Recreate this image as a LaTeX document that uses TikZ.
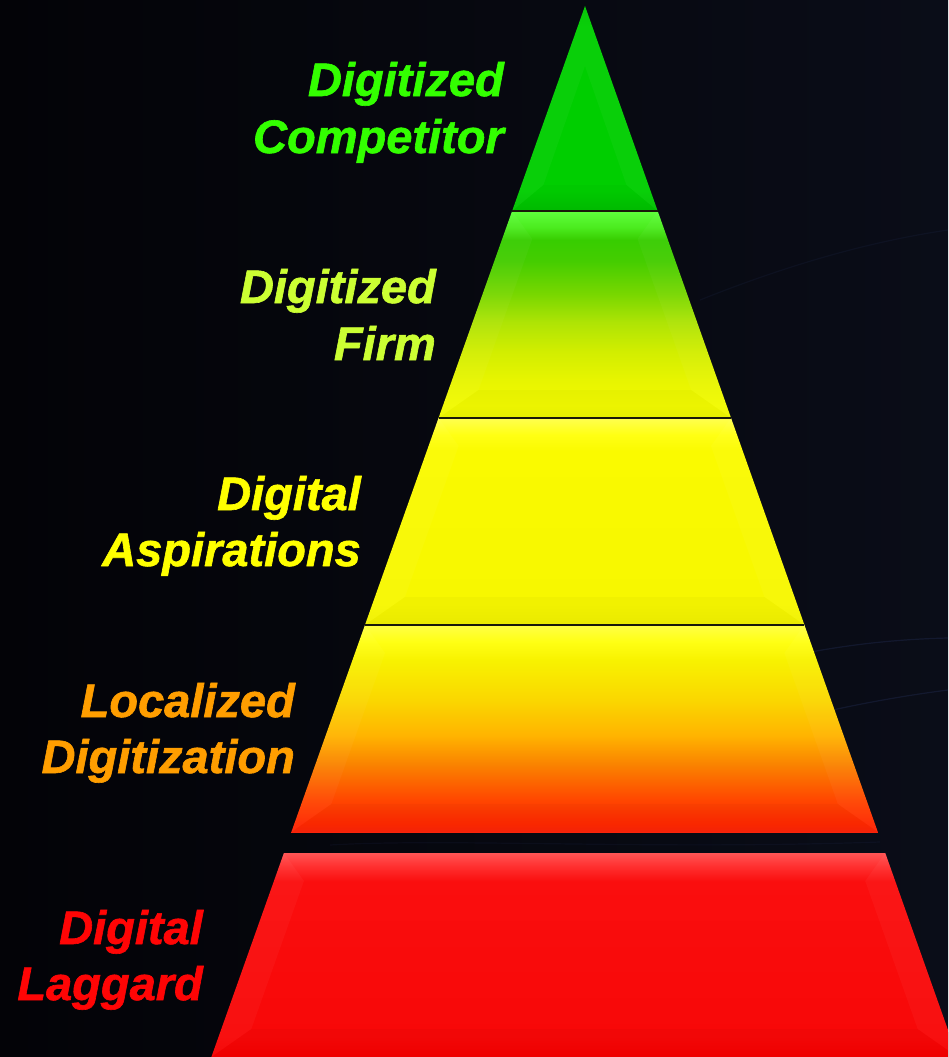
\documentclass[tikz,border=0pt]{standalone}
\usepackage{fontspec}
\newfontfamily\lblfont{Liberation Sans}[BoldItalicFeatures={FakeBold=1.3}]
\definecolor{bgl}{RGB}{3,3,7}
\definecolor{bgr}{RGB}{10,13,24}
\definecolor{streakc}{RGB}{70,90,170}
% layer 1
\definecolor{g1a}{RGB}{0,196,0}
\definecolor{g1b}{RGB}{0,206,0}
\definecolor{g1c}{RGB}{0,190,0}
% layer 2
\definecolor{g2a}{RGB}{95,255,60}
\definecolor{g2b}{RGB}{75,235,30}
\definecolor{g2c}{RGB}{55,205,0}
\definecolor{g2d}{RGB}{68,205,0}
\definecolor{g2e}{RGB}{120,215,0}
\definecolor{g2f}{RGB}{175,228,5}
\definecolor{g2g}{RGB}{210,238,0}
\definecolor{g2h}{RGB}{232,245,0}
\definecolor{g2i}{RGB}{242,250,0}
\definecolor{g2j}{RGB}{236,245,0}
% layer 3
\definecolor{y3a}{RGB}{255,255,80}
\definecolor{y3b}{RGB}{255,255,20}
\definecolor{y3c}{RGB}{250,250,0}
\definecolor{y3d}{RGB}{247,247,0}
\definecolor{y3e}{RGB}{240,240,0}
% layer 4
\definecolor{o4a}{RGB}{255,255,70}
\definecolor{o4b}{RGB}{255,255,20}
\definecolor{o4c}{RGB}{248,242,0}
\definecolor{o4d}{RGB}{250,215,0}
\definecolor{o4e}{RGB}{255,180,0}
\definecolor{o4f}{RGB}{250,130,0}
\definecolor{o4g}{RGB}{255,70,0}
\definecolor{o4h}{RGB}{255,40,0}
\definecolor{o4i}{RGB}{250,35,10}
% layer 5
\definecolor{r5a}{RGB}{255,85,85}
\definecolor{r5b}{RGB}{255,50,50}
\definecolor{r5c}{RGB}{250,14,14}
\definecolor{r5d}{RGB}{248,8,8}
\definecolor{r5e}{RGB}{244,0,0}
% text
\definecolor{t1}{RGB}{51,255,0}
\definecolor{t2}{RGB}{204,255,51}
\definecolor{t3}{RGB}{255,255,0}
\definecolor{t4}{RGB}{255,158,0}
\definecolor{t5}{RGB}{255,5,5}
\definecolor{sepc}{RGB}{25,25,10}
\pgfdeclareverticalshading{layA}{100bp}{color(0bp)=(g1c); color(25bp)=(g1c); color(30bp)=(g1b); color(70bp)=(g1b); color(75bp)=(g1a); color(100bp)=(g1a)}
\pgfdeclareverticalshading{layB}{100bp}{color(0bp)=(g2j); color(25bp)=(g2j); color(28bp)=(g2i); color(34bp)=(g2h); color(41bp)=(g2g); color(48bp)=(g2f); color(55bp)=(g2e); color(63bp)=(g2d); color(68bp)=(g2c); color(71bp)=(g2b); color(75bp)=(g2a); color(100bp)=(g2a)}
\pgfdeclareverticalshading{layC}{100bp}{color(0bp)=(y3e); color(25bp)=(y3e); color(30bp)=(y3d); color(67bp)=(y3c); color(71bp)=(y3b); color(75bp)=(y3a); color(100bp)=(y3a)}
\pgfdeclareverticalshading{layD}{100bp}{color(0bp)=(o4i); color(25bp)=(o4i); color(27bp)=(o4h); color(32.7bp)=(o4g); color(41.2bp)=(o4f); color(48.4bp)=(o4e); color(57bp)=(o4d); color(66.5bp)=(o4c); color(71bp)=(o4b); color(75bp)=(o4a); color(100bp)=(o4a)}
\pgfdeclareverticalshading{layE}{100bp}{color(0bp)=(r5e); color(25bp)=(r5e); color(30bp)=(r5d); color(68bp)=(r5c); color(72bp)=(r5b); color(75bp)=(r5a); color(100bp)=(r5a)}
\newcommand\Lx[1]{(585-0.3555*((#1)-6))}
\newcommand\Rx[1]{(585+0.3545*((#1)-6))}
\newcommand\drawlayer[4]{%
  \coordinate (#4otl) at ({\Lx{#1}},#1);
  \coordinate (#4otr) at ({\Rx{#1}},#1);
  \coordinate (#4obr) at ({\Rx{#2}},#2);
  \coordinate (#4obl) at ({\Lx{#2}},#2);
  \coordinate (#4itl) at ({\Lx{#1+28}+30},#1+28);
  \coordinate (#4itr) at ({\Rx{#1+28}-30},#1+28);
  \coordinate (#4ibr) at ({\Rx{#2-28}-30},#2-28);
  \coordinate (#4ibl) at ({\Lx{#2-28}+30},#2-28);
  \shade[shading=#3] (#4otl) -- (#4otr) -- (#4obr) -- (#4obl) -- cycle;
  \fill[bevlight] (#4otl) -- (#4itl) -- (#4ibl) -- (#4obl) -- cycle;
  \fill[bevlight] (#4otr) -- (#4itr) -- (#4ibr) -- (#4obr) -- cycle;
  \fill[bevdark] (#4obl) -- (#4ibl) -- (#4ibr) -- (#4obr) -- cycle;
}
\begin{document}
\begin{tikzpicture}[x=1pt,y=-1pt,
  bevlight/.style={white,opacity=0.035},
  bevdark/.style={black,opacity=0.025},
  sepline/.style={draw=sepc,line width=1.3pt},
  streak/.style={draw=streakc,opacity=0.16,line width=1.2pt},
  lbl/.style={anchor=base east,inner sep=0pt,font=\lblfont\fontsize{47}{57}\selectfont\bfseries\itshape}]
\useasboundingbox (0,0) rectangle (948,1057);
\clip (0,0) rectangle (948,1057);
% background
\shade[left color=bgl,right color=bgr] (0,0) rectangle (948,1057);
\draw[streak] (640,700) .. controls (760,655) and (860,640) .. (948,638);
\draw[streak] (660,760) .. controls (770,720) and (870,700) .. (948,690);
\draw[streak,opacity=0.08] (700,300) .. controls (800,260) and (880,240) .. (948,230);
\draw[streak,opacity=0.07] (330,845) .. controls (450,838) and (650,850) .. (880,842);
% layer 1 (triangle)
\coordinate (apex) at (585,6);
\coordinate (l1bl) at ({\Lx{211}},211);
\coordinate (l1br) at ({\Rx{211}},211);
\coordinate (l1ia) at (585,66);
\coordinate (l1ibl) at ({\Lx{185}+22},185);
\coordinate (l1ibr) at ({\Rx{185}-22},185);
\shade[shading=layA] (apex) -- (l1br) -- (l1bl) -- cycle;
\fill[bevlight] (apex) -- (l1ia) -- (l1ibl) -- (l1bl) -- cycle;
\fill[bevlight] (apex) -- (l1ia) -- (l1ibr) -- (l1br) -- cycle;
\fill[bevdark] (l1bl) -- (l1ibl) -- (l1ibr) -- (l1br) -- cycle;
% layers 2-5
\drawlayer{211}{418}{layB}{lb}
\drawlayer{418}{625}{layC}{lc}
\drawlayer{625}{832}{layD}{ld}
\drawlayer{853}{1057}{layE}{le}
% separators
\draw[sepline] (l1bl) -- (l1br);
\draw[sepline] (lcotl) -- (lcotr);
\draw[sepline] (ldotl) -- (ldotr);
\draw[draw=o4i,line width=1pt] (ldobl) -- (ldobr);
\draw[draw=r5a,line width=1pt] (leotl) -- (leotr);
% labels
\node[lbl,text=t1] (t1a) at (504,96) {Digitized};
\node[lbl,text=t1] (t1b) at (504,153) {Competitor};
\node[lbl,text=t2] (t2a) at (436,303) {Digitized};
\node[lbl,text=t2] (t2b) at (436,360) {Firm};
\node[lbl,text=t3] (t3a) at (361,510) {Digital};
\node[lbl,text=t3] (t3b) at (361,566) {Aspirations};
\node[lbl,text=t4] (t4a) at (295,717) {Localized};
\node[lbl,text=t4] (t4b) at (295,773) {Digitization};
\node[lbl,text=t5] (t5a) at (203,944) {Digital};
\node[lbl,text=t5] (t5b) at (203,1000) {Laggard};
\end{tikzpicture}
\end{document}
